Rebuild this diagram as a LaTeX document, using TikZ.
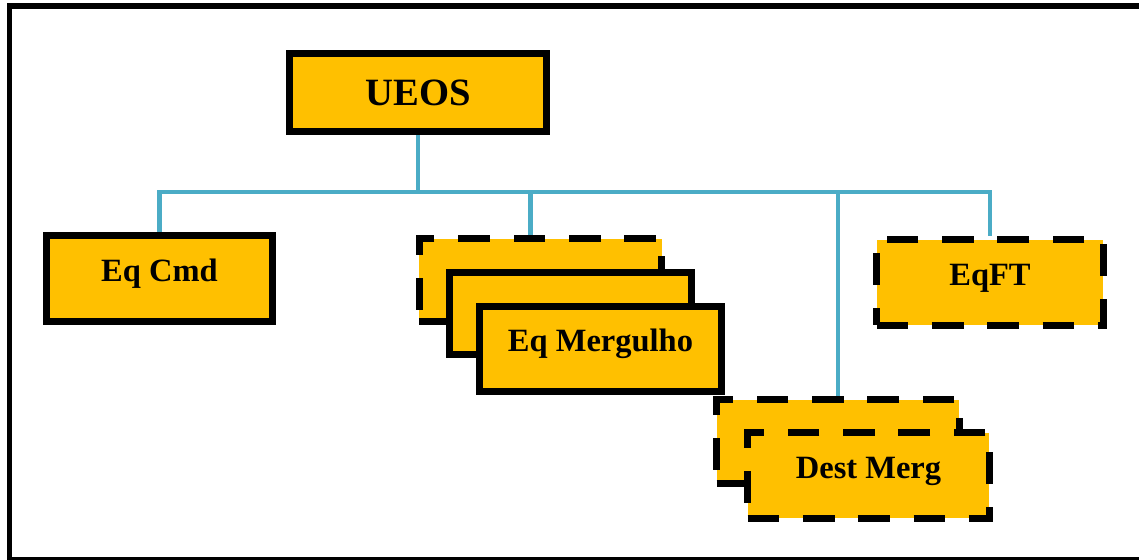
\documentclass[tikz,border=0pt]{standalone}
\usepackage{fontspec}
\setmainfont{Liberation Serif}
\usetikzlibrary{backgrounds}
\definecolor{boxgold}{HTML}{FFC000}
\definecolor{linkblue}{HTML}{4BACC6}

\begin{document}
\begin{tikzpicture}[x=0.02cm,y=-0.02cm,
    unit/.style={draw=black,fill=boxgold,line width=4pt,inner sep=0pt,
      font=\fontsize{18.5}{22}\selectfont\bfseries,text height=12.6pt,text depth=9.6pt},
    dashunit/.style={unit,dash pattern=on 18pt off 13.5pt},
    link/.style={draw=linkblue,line width=2.8pt}]
  \useasboundingbox (0,0) rectangle (1139,560);
  \draw [line width=3pt] (1160,6) -- (9.5,6) -- (9.5,560) -- (1160,560);

  \node [unit,minimum width=5.14cm,minimum height=1.56cm,font=\fontsize{22}{26}\selectfont\bfseries,
    text height=,text depth=] (ueos) at (418,92.5) {UEOS};
  \node [unit,minimum width=4.52cm,minimum height=1.72cm] (cmd) at (159.5,278.5) {Eq Cmd};
  \node [dashunit,minimum width=4.54cm,minimum height=1.72cm] (eqft) at (990,282.5) {EqFT};
  % stacked boxes
  \node [dashunit,minimum width=4.86cm,minimum height=1.66cm] (mergA) at (540.5,280) {};
  \node [unit,minimum width=4.84cm,minimum height=1.64cm] (mergB) at (570.5,313.5) {};
  \node [unit,minimum width=4.84cm,minimum height=1.70cm] (mergC) at (600.5,349) {Eq Mergulho};
  \node [dashunit,minimum width=4.86cm,minimum height=1.68cm] (destA) at (838,441.5) {};
  \node [dashunit,minimum width=4.84cm,minimum height=1.72cm] (destB) at (868.5,475.5) {Dest Merg};

  \coordinate (bus) at (418,192);
  \coordinate (mergtap) at ([xshift=-0.2cm]mergA.north);

  % tree lines
  \begin{scope}[on background layer]
    \draw [link] (ueos) -- (ueos |- bus);
    \draw [link] (cmd.north) |- (bus -| eqft.north) -- (eqft.north);
    \draw [link] (mergtap) -- (mergtap |- bus);
    \draw [link] (destA.north) -- (destA.north |- bus);
  \end{scope}
\end{tikzpicture}
\end{document}
